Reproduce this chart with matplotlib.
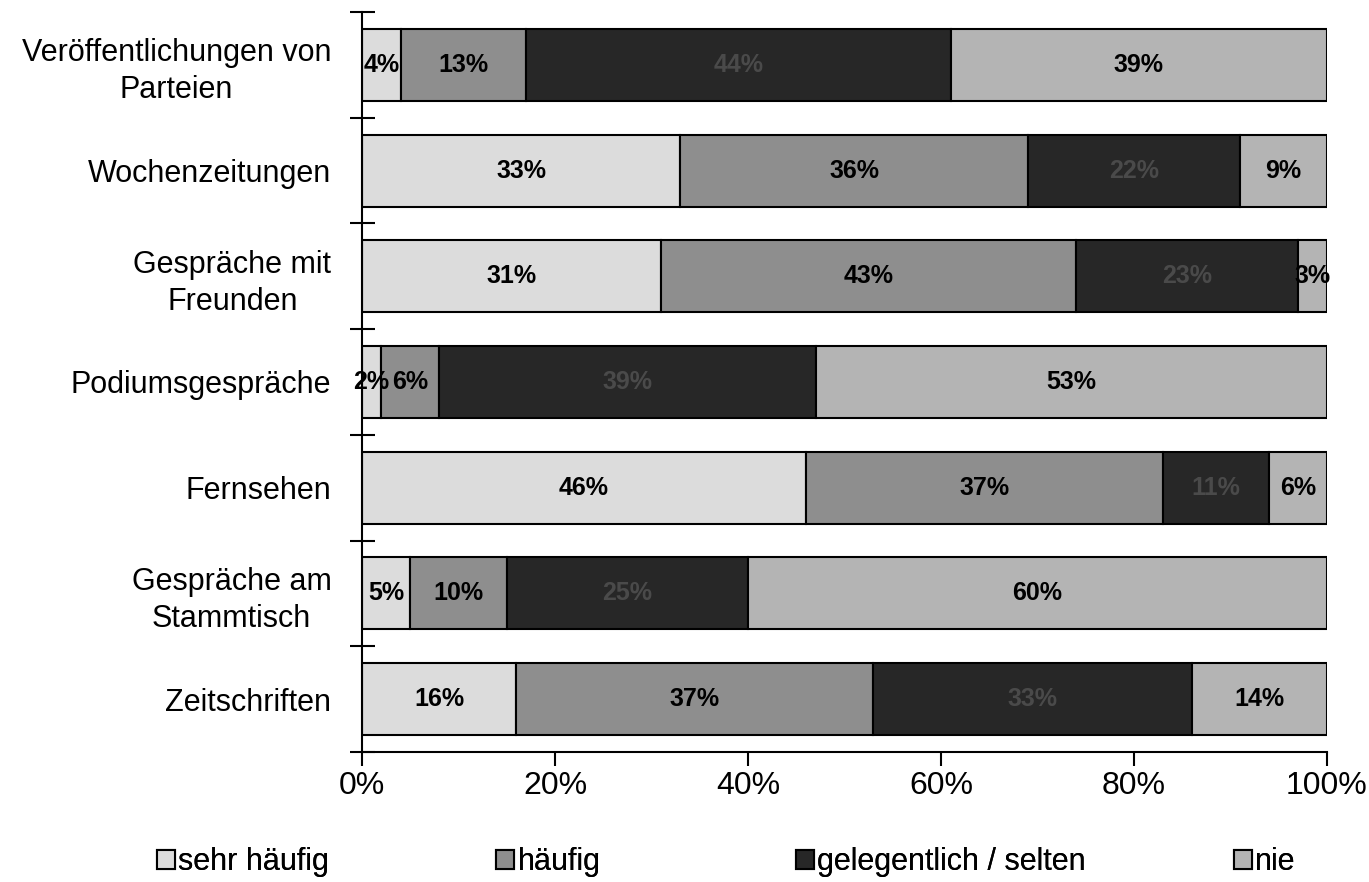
import numpy as np
import matplotlib
matplotlib.use('Agg')
import matplotlib.pyplot as plt
from matplotlib.patches import Patch

plt.rcParams['font.family'] = ['Liberation Sans', 'DejaVu Sans']

kategorien = ['Veröffentlichungen von\nParteien', 'Wochenzeitungen', 'Gespräche mit\nFreunden',
              'Podiumsgespräche', 'Fernsehen', 'Gespräche am\nStammtisch', 'Zeitschriften']
sehr_haeufig = [4, 33, 31, 2, 46, 5, 16]
haeufig = [13, 36, 43, 6, 37, 10, 37]
gelegentlich = [44, 22, 23, 39, 11, 25, 33]
nie = [39, 9, 3, 53, 6, 60, 14]

serien = ['sehr häufig', 'häufig', 'gelegentlich / selten', 'nie']
farben = ['#dcdcdc', '#8e8e8e', '#272727', '#b4b4b4']
textfarben = ['black', 'black', '#4a4a4a', 'black']

fig = plt.figure(figsize=(13.69, 8.82), dpi=100)
ax = fig.add_axes([0.2644, 0.1474, 0.7049, 0.839])

y = np.arange(len(kategorien))
links = np.zeros(len(kategorien))
for werte, farbe, tf in zip([sehr_haeufig, haeufig, gelegentlich, nie], farben, textfarben):
    werte = np.array(werte, dtype=float)
    bars = ax.barh(y, werte, left=links, height=0.68, color=farbe, edgecolor='black', linewidth=1.5)
    for b, w in zip(bars, werte):
        ax.text(b.get_x() + w / 2, b.get_y() + b.get_height() / 2, f'{int(w)}%',
                ha='center', va='center', fontsize=18, fontweight='bold', color=tf)
    links += werte

ax.set_xlim(0, 100)
ax.set_ylim(len(kategorien) - 0.5, -0.5)
ax.set_yticks(y)
ax.set_yticklabels(kategorien, fontsize=22, linespacing=1.3)
for lab in ax.get_yticklabels():
    lab.set_multialignment('center')
ax.set_yticks(np.arange(-0.5, len(kategorien)), minor=True)
ax.tick_params(axis='y', which='major', length=0, pad=22)
ax.tick_params(axis='y', which='minor', direction='inout', length=18, width=1.5)
ax.set_xticks([0, 20, 40, 60, 80, 100])
ax.set_xticklabels(['0%', '20%', '40%', '60%', '80%', '100%'], fontsize=23)
ax.tick_params(axis='x', direction='out', length=10, width=1.5, pad=4)
for s in ['top', 'right']:
    ax.spines[s].set_visible(False)
for s in ['left', 'bottom']:
    ax.spines[s].set_linewidth(1.5)

# Legende: einzelne Einträge wie im Original unregelmäßig verteilt
leg_x = [157, 496, 796, 1234]
for name, farbe, lx in zip(serien, farben, leg_x):
    h = Patch(facecolor=farbe, edgecolor='black', linewidth=1.5)
    leg = fig.legend([h], [name], loc='center left', bbox_to_anchor=(lx / 1369, 1 - 862 / 882),
                     frameon=False, fontsize=22, handlelength=0.6, handleheight=0.6,
                     handletextpad=0.1, borderpad=0, borderaxespad=0)
    fig.add_artist(leg)

fig.savefig('out.png', dpi=100)
